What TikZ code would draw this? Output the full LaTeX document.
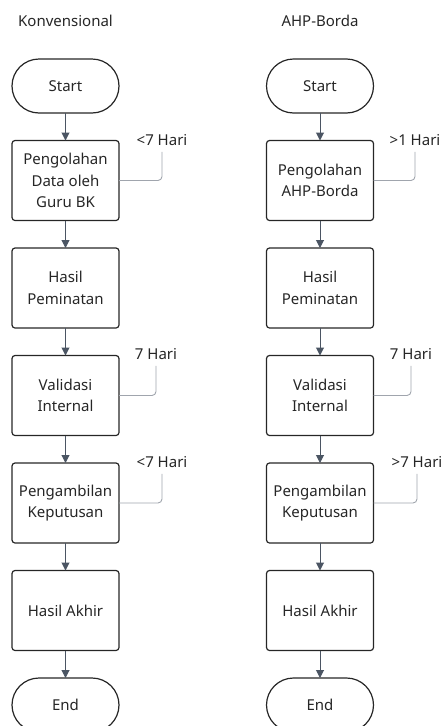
\documentclass[tikz,border=0pt]{standalone}
\usepackage{fontspec}
\setmainfont{Noto Sans}
\usetikzlibrary{positioning,shapes.misc,arrows.meta}
\definecolor{edgegray}{HTML}{4B5563}
\definecolor{notegray}{HTML}{A0A5AD}
\definecolor{inkgray}{HTML}{262626}
\tikzset{
  every node/.style={font=\fontsize{15}{21.7}\selectfont,text=inkgray},
  proc/.style={draw=inkgray,line width=1.2pt,rounded corners=3pt,
    minimum width=107pt,minimum height=80pt,align=center,inner sep=0pt,outer sep=0pt},
  term/.style={draw=inkgray,line width=1.2pt,rounded rectangle,
    minimum width=107pt,minimum height=54pt,inner sep=0pt,outer sep=0pt},
  flow/.style={edgegray,line width=1pt,-{Triangle[width=8pt,length=8pt]}},
  note/.style={notegray,line width=0.9pt,rounded corners=4pt},
  lbl/.style={inner sep=2pt}
}
\begin{document}
\begin{tikzpicture}[x=1pt,y=-1pt,node distance=27.5pt]
  \useasboundingbox (0,0) rectangle (441,726);
  % Konvensional
  \node[lbl] (kh) at (65.5,21) {Konvensional};
  \node[term] (ks) at (65.5,86) {Start};
  \node[proc,below=of ks] (k1) {Pengolahan\\Data oleh\\Guru BK};
  \node[proc,below=of k1] (k2) {Hasil\\Peminatan};
  \node[proc,below=of k2] (k3) {Validasi\\Internal};
  \node[proc,below=of k3] (k4) {Pengambilan\\Keputusan};
  \node[proc,below=of k4] (k5) {Hasil Akhir};
  \node[term,below=of k5] (ke) {End};
  % AHP-Borda
  \node[lbl] (ah) at (320,21) {AHP-Borda};
  \node[term] (as) at (320,86) {Start};
  \node[proc,below=of as] (a1) {Pengolahan\\AHP-Borda};
  \node[proc,below=of a1] (a2) {Hasil\\Peminatan};
  \node[proc,below=of a2] (a3) {Validasi\\Internal};
  \node[proc,below=of a3] (a4) {Pengambilan\\Keputusan};
  \node[proc,below=of a4] (a5) {Hasil Akhir};
  \node[term,below=of a5] (ae) {End};
  \foreach \c in {k,a}
    \foreach \p/\q in {s/1,1/2,2/3,3/4,4/5,5/e}
      \draw[flow] (\c\p.south) -- (\c\q.north);
  % durasi
  \node[lbl] (kt1) at (162,140) {<7 Hari};
  \node[lbl] (kt3) at (156,354) {7 Hari};
  \node[lbl] (kt4) at (162,462) {<7 Hari};
  \node[lbl] (at1) at (415,140) {>1 Hari};
  \node[lbl] (at3) at (411,354) {7 Hari};
  \node[lbl] (at4) at (417,462) {>7 Hari};
  \foreach \b/\t in {k1/kt1,k3/kt3,k4/kt4,a1/at1,a3/at3,a4/at4}
    \draw[note] (\b.east) -| ([yshift=-4pt]\t.south);
\end{tikzpicture}
\end{document}
